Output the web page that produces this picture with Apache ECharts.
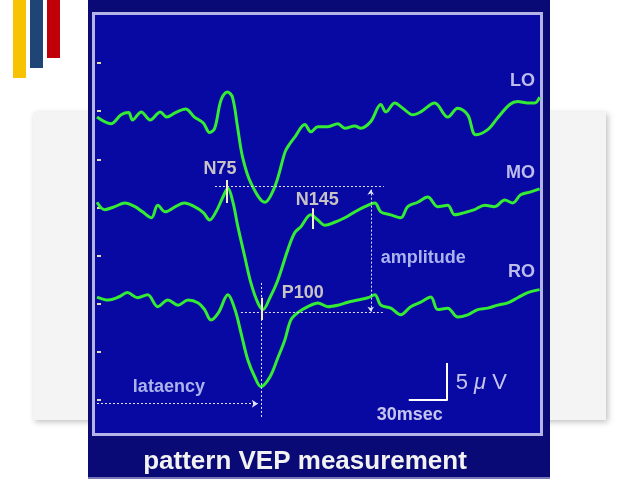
<!DOCTYPE html>
<html><head><meta charset="utf-8">
<script src="https://cdn.jsdelivr.net/npm/echarts@6/dist/echarts.min.js"></script>
<style>html,body{margin:0;padding:0;background:#fff}#c{width:638px;height:479px}</style>
</head><body><div id="c"></div>
<script>
// Time axis in ms, amplitude in microvolts (traces stacked on one scale)
const channels = ['LO', 'MO', 'RO'];
const yTicks = [0, 6.5, 13, 19.5, 26, 32.5, 39, 45.5];

const loTrace = [
  [0,38.2],[11,37.3],[19,38.5],[25,38.8],[28,37.8],[35,38.9],[42,37.8],[50,38.9],[55,38.2],[62,38.8],
  [70,39.3],[77,38.2],[84,37.4],[89,36.1],[93,36.7],[98,40.5],[103,41.6],[107,40.9],[111,36.9],[115,32.8],
  [121.6,29.3],[132.6,26.7],[140.5,28.8],[148.4,33.4],[150.8,34.2],[156.3,35.5],[164.2,37.2],[169,36.2],
  [174.5,36.9],[182.4,36.9],[190.3,37.3],[195.8,36.7],[203.7,37.0],[208.4,36.7],[216.3,37.6],[224.2,39.9],
  [228.2,38.9],[235.3,40.1],[241.6,39.4],[249.5,38.5],[255.8,38.9],[266.8,40.1],[277.1,38.2],[285,39.4],
  [292.9,38.5],[299.2,35.8],[308.7,36.5],[316.6,38.1],[326.1,39.9],[332.4,40.3],[340.3,40.1],[345.8,40.1],[349.7,40.9]
];
const moTrace = [
  [0,26.7],[6,25.7],[14,26.1],[22,26.6],[30,26.1],[36,25.4],[43,24.6],[48,26.3],[54,25.4],[62,26.1],
  [69,26.6],[77,26.1],[84,25.3],[89,24.3],[94,25.4],[99.5,27.4],[103.4,28.6],[107.4,26.7],[111.3,23.4],
  [116.8,19.3],[121.6,15.8],[127.1,13.1],[131.1,12.2],[136.6,13.8],[142.9,16.2],[150.8,20.3],[156.3,22.6],
  [161.1,23.4],[168.9,25.0],[174.5,24.3],[180,23.6],[187.9,24.0],[195.8,24.6],[203.7,25.4],[211.6,26.1],
  [219.5,26.6],[224.2,25.4],[232.1,25.0],[240,24.6],[245.5,26.1],[253.4,26.7],[261.3,27.4],[269.2,26.1],
  [277.1,26.3],[282.6,25.0],[290.5,25.3],[298.4,25.7],[306.3,26.3],[314.2,26.1],[322.1,27.0],[328.4,26.6],
  [334.7,27.7],[342.6,28.1],[349.7,28.5]
];
const roTrace = [
  [0,13.9],[9,13.5],[17,13.9],[24,14.5],[32,13.8],[40,14.2],[48,12.6],[56,13.5],[64,12.8],[72,13.5],
  [80,13.1],[85,12.2],[90,10.8],[96,11.8],[103.4,14.2],[109,12.2],[113.7,9.1],[119.2,5.4],[124.7,3.1],
  [129.5,1.8],[136.6,3.1],[142.9,5.7],[148.4,8.1],[153.2,10.8],[158.7,11.8],[166.6,12.6],[174.5,13.1],
  [182.4,12.6],[190.3,12.8],[198.2,13.2],[206.1,13.5],[214,13.8],[219.5,14.2],[224.2,12.8],[232.1,12.4],
  [240,11.5],[247.9,12.6],[255.8,13.2],[263.7,13.9],[269.2,12.2],[277.1,12.4],[285,11.2],[292.9,11.5],
  [300.8,12.2],[308.7,12.4],[316.6,12.8],[324.5,13.1],[332.4,13.8],[340.3,14.5],[349.7,14.9]
];

// channel label anchors [ms, uV]
const channelLabelPos = [[346, 43.0], [346, 30.7], [346, 17.3]];
// peak names and their label anchors
const peakNames = ['N75', 'N145', 'P100'];
const peakLabelPos = [[97.1, 31.2], [174.1, 27.0], [162.6, 14.5]];
// peak markers [ms, uV top, uV bottom]
const peakMarks = [[102.2, 29.7, 26.6], [170.5, 25.9, 23.1], [130.3, 13.8, 10.8]];
// measurement guides
const amplitudeTop = 28.9, amplitudeBottom = 11.9, amplitudeAt = 216.3;
const latencyAt = 129.5;
// scale bar: 30 ms x 5 uV
const scaleBarMs = 30, scaleBarUv = 5, scaleBarEnd = 276.3;

const FONT = '"Liberation Sans", Arial, sans-serif';
const chart = echarts.init(document.getElementById('c'), null, {renderer: 'canvas'});

const dot = {color: '#dfe4ff', width: 1, type: [2, 2]};
const markLines = [
  // N75 level
  [{coord: [93.2, amplitudeTop], lineStyle: dot}, {coord: [226.6, amplitudeTop]}],
  // P100 level
  [{coord: [113.7, amplitudeBottom], lineStyle: dot}, {coord: [225.8, amplitudeBottom]}],
  // amplitude arrow
  [{coord: [amplitudeAt, amplitudeTop - 0.5], symbol: 'arrow', symbolSize: [5, 5], lineStyle: dot},
   {coord: [amplitudeAt, amplitudeBottom], symbol: 'arrow', symbolSize: [5, 5]}],
  // latency vertical
  [{coord: [latencyAt, 15.8], lineStyle: dot}, {coord: [latencyAt, -2.4]}],
  // latency arrow
  [{coord: [0, -0.5], lineStyle: dot}, {coord: [127.1, -0.5], symbol: 'arrow', symbolSize: [6, 6]}],
  // scale bar
  [{coord: [scaleBarEnd, scaleBarUv], lineStyle: {color: '#ffffff', width: 2, type: 'solid'}}, {coord: [scaleBarEnd, 0]}],
  [{coord: [scaleBarEnd - scaleBarMs, 0], lineStyle: {color: '#ffffff', width: 2, type: 'solid'}}, {coord: [scaleBarEnd + 0.8, 0]}]
];
peakMarks.forEach(m => {
  markLines.push([{coord: [m[0], m[1]], lineStyle: {color: '#f2ecc4', width: 2, type: 'solid'}}, {coord: [m[0], m[2]]}]);
});

const labelData = [];
channels.forEach((c, i) => labelData.push({name: c, value: channelLabelPos[i],
  label: {color: '#eaeaff', align: 'right', fontSize: 18, fontWeight: 'bold'}}));
peakNames.forEach((p, i) => labelData.push({name: p, value: peakLabelPos[i],
  label: {color: '#f7f1cc', fontSize: 18, fontWeight: 'bold'}}));
labelData.push({name: 'amplitude', value: [257.8, 19.2], label: {color: '#d2ddff', fontSize: 18, fontWeight: 'bold'}});
labelData.push({name: 'lataency', value: [56.8, 1.8], label: {color: '#d2ddff', fontSize: 18, fontWeight: 'bold'}});
labelData.push({name: '30msec', value: [247.1, -2.0], label: {color: '#f4f4ff', fontSize: 18, fontWeight: 'bold'}});
labelData.push({name: '5 {mu|μ} V', value: [283.4, 2.3], label: {color: '#f4f4ff', fontSize: 22, align: 'left',
  rich: {mu: {fontStyle: 'italic', fontSize: 22, color: '#f4f4ff', fontFamily: FONT}}}});

const traceStyle = {color: '#33ec33', width: 3};
function trace(name, data) {
  return {name, type: 'line', data, showSymbol: false, smooth: 0.35, clip: false,
    lineStyle: traceStyle, itemStyle: {color: '#33ec33'}, silent: true, animation: false, z: 3};
}

chart.setOption({
  animation: false,
  backgroundColor: '#ffffff',
  graphic: [
    {type: 'rect', z: -20, shape: {x: 33, y: 112, width: 573, height: 308},
     style: {fill: '#f4f4f4', shadowBlur: 6, shadowColor: 'rgba(0,0,0,0.25)', shadowOffsetX: 2, shadowOffsetY: 2}},
    {type: 'rect', z: -20, shape: {x: 13, y: 0, width: 13, height: 78}, style: {fill: '#f7c200'}},
    {type: 'rect', z: -20, shape: {x: 30, y: 0, width: 13, height: 68}, style: {fill: '#1f4577'}},
    {type: 'rect', z: -20, shape: {x: 47, y: 0, width: 13, height: 58}, style: {fill: '#c00008'}},
    {type: 'rect', z: -19, shape: {x: 88, y: 0, width: 462, height: 479}, style: {fill: '#0a0a76'}},
    {type: 'rect', z: -19, shape: {x: 88, y: 477, width: 462, height: 2}, style: {fill: '#7878b8'}},
    {type: 'rect', z: -18, shape: {x: 93.5, y: 13.5, width: 448, height: 421},
     style: {fill: '#0808a2', stroke: '#b4b4e8', lineWidth: 3}},
    {type: 'text', z: -17, x: 305, y: 462,
     style: {text: 'pattern VEP measurement', fill: '#f2f2f2', font: 'bold 26px ' + FONT, align: 'center', verticalAlign: 'middle'}}
  ],
  grid: {left: 97, right: 98, top: 63, bottom: 30.9},
  xAxis: {type: 'value', min: 0, max: 350, show: false},
  yAxis: {type: 'value', min: -6.5, max: yTicks[yTicks.length - 1], interval: 6.5,
    axisLine: {show: false}, axisLabel: {show: false}, splitLine: {show: false},
    axisTick: {show: true, inside: true, length: 4, customValues: yTicks, lineStyle: {color: '#e2d9a4', width: 2}}},
  series: [
    trace(channels[0], loTrace),
    trace(channels[1], moTrace),
    trace(channels[2], roTrace),
    {type: 'scatter', name: 'annotations', data: labelData, symbolSize: 1, clip: false, silent: true,
     itemStyle: {color: 'rgba(0,0,0,0)'}, z: 4,
     label: {show: true, position: 'inside', formatter: '{b}', fontFamily: FONT},
     markLine: {silent: true, animation: false, symbol: ['none', 'none'], label: {show: false},
       emphasis: {disabled: true}, data: markLines}}
  ]
});
</script></body></html>
